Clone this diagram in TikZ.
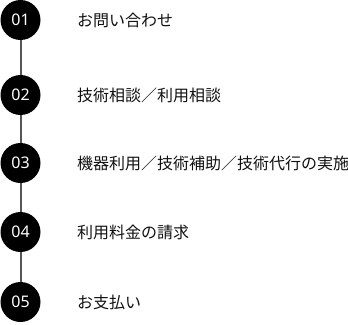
\documentclass[tikz,border=0pt]{standalone}
\usepackage{fontspec}
\newfontfamily\jpfont{Noto Sans CJK JP}
\newfontfamily\numfont{Noto Sans}
\definecolor{linegray}{HTML}{555555}
\definecolor{txt}{HTML}{111111}
\begin{document}
\begin{tikzpicture}[x=1pt,y=-1pt,
  stepcircle/.style={circle,fill=black,minimum size=40pt,inner sep=0pt,text=white,font=\numfont\fontsize{16}{16}\selectfont},
  steplabel/.style={anchor=west,inner sep=0pt,text=txt,font=\jpfont\fontsize{16}{16}\selectfont},
  link/.style={draw=linegray,line width=2pt}]
\useasboundingbox (0,0) rectangle (348,324);
\node[stepcircle] (c1) at (20.5,20) {01};
\node[stepcircle] (c2) at (20.5,95) {02};
\node[stepcircle] (c3) at (20.5,163) {03};
\node[stepcircle] (c4) at (20.5,232) {04};
\node[stepcircle] (c5) at (20.5,302) {05};
\draw[link] (c1) -- (c2);
\draw[link] (c2) -- (c3);
\draw[link] (c3) -- (c4);
\draw[link] (c4) -- (c5);
\node[steplabel] (t1) at (77,20) {お問い合わせ};
\node[steplabel] (t2) at (77,95) {技術相談／利用相談};
\node[steplabel] (t3) at (77,163) {機器利用／技術補助／技術代行の実施};
\node[steplabel] (t4) at (77,232) {利用料金の請求};
\node[steplabel] (t5) at (77,302) {お支払い};
\end{tikzpicture}
\end{document}
